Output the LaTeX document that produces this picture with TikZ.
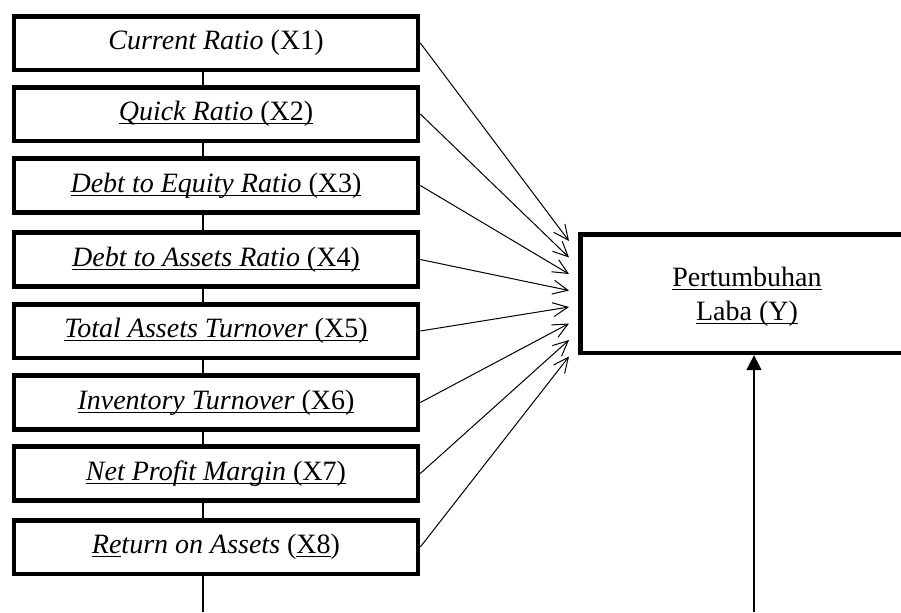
\documentclass[tikz,border=0pt]{standalone}
\usepackage{fontspec}
\setmainfont{Liberation Serif}
\usetikzlibrary{arrows.meta}
\pgfdeclarelayer{background}
\pgfsetlayers{background,main}
\newsavebox\ulnbox
\newcommand\uln[1]{\sbox\ulnbox{#1}\rlap{\rule[-1.8pt]{\wd\ulnbox}{0.6pt}}\usebox\ulnbox}

\begin{document}
\begin{tikzpicture}[x=0.5pt,y=-0.5pt]
  % Styles
  \tikzstyle{ratio box}=[draw,line width=2.3pt,fill=white,minimum width=202pt,minimum height=26.8pt,inner sep=0pt,font=\fontsize{14}{17}\selectfont]
  \tikzstyle{growth box}=[ratio box,minimum width=166.8pt,minimum height=59.3pt,align=center,text depth=-3pt]
  \tikzstyle{vector}=[line width=0.5pt,-{Straight Barb[length=7.5pt,width=7pt]}]
  \tikzstyle{solid vector}=[line width=0.6pt,-{Triangle[length=7.5pt,width=7.5pt]}]

  % The frame
  \clip (0,0) rectangle (901,612);

  % Ratios
  \foreach \i/\yy/\xtext in {1/43/{\textit{Current Ratio} (X1)},
      2/114/{\uln{\textit{Quick Ratio} (X2)}},
      3/185.5/{\uln{\textit{Debt to Equity Ratio} (X3)}},
      4/259.5/{\uln{\textit{Debt to Assets Ratio} (X4)}},
      5/331/{\uln{\textit{Total Assets Turnover} (X5)}},
      6/402.5/{\uln{\textit{Inventory Turnover} (X6)}},
      7/473.5/{\uln{\textit{Net Profit Margin} (X7)}},
      8/547/{\uln{\textit{Re}}\textit{turn on Assets} (\uln{X8})}}
    \node[ratio box] (X\i) at (216,\yy) {\xtext};

  % Growth
  \node[growth box] (Y) at (747,293.5) {\uln{Pertumbuhan}\\\uln{Laba (Y)}};

  % The arrows
  \foreach \i in {1,...,8}
    \coordinate (t\i) at (569,{224.5+16.5*\i});
  \foreach \i in {1,...,8}
    \draw[vector] (X\i.east) -- (t\i);

  \coordinate (spine end) at (203,612);
  \begin{pgfonlayer}{background}
    \draw[line width=0.6pt] (X1.south -| spine end) -- (spine end);
  \end{pgfonlayer}

  \coordinate (growth in) at (754,612);
  \draw[solid vector] (growth in) -- (growth in |- Y.south);
\end{tikzpicture}
\end{document}
